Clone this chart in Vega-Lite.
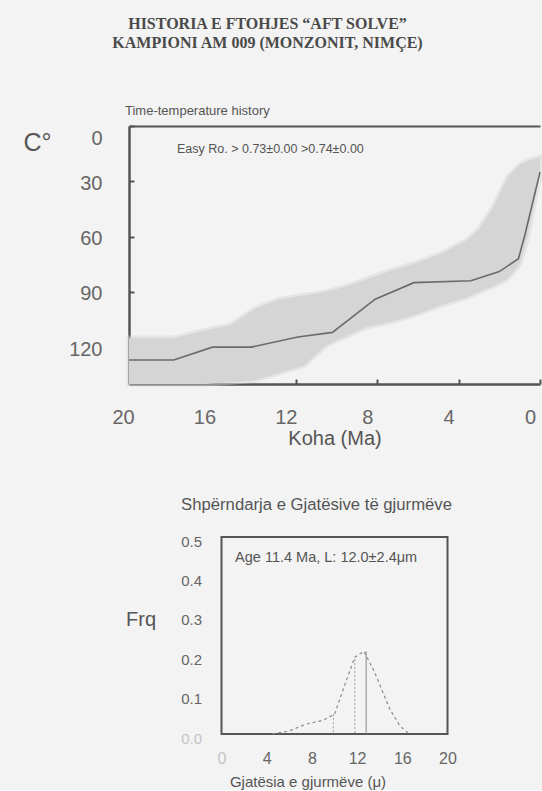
{
  "$schema": "https://vega.github.io/schema/vega-lite/v6.json",
  "background": "#f3f3f3",
  "padding": {"left": 23, "top": 16, "right": 0, "bottom": 0},
  "title": {
    "text": ["HISTORIA E FTOHJES “AFT SOLVE”", "KAMPIONI  AM 009 (MONZONIT, NIMÇE)"],
    "font": "Liberation Serif",
    "fontSize": 16,
    "fontWeight": "bold",
    "color": "#4a4a4a",
    "lineHeight": 19,
    "anchor": "middle",
    "dx": -19,
    "offset": 54
  },
  "config": {"font": "Liberation Sans", "axis": {"grid": false}},
  "bounds": "flush",
  "center": true,
  "spacing": 153,
  "datasets": {
    "envelope": [
      {"ma": 20.2, "cool": 115, "hot": 140},
      {"ma": 18.0, "cool": 115, "hot": 140},
      {"ma": 16.5, "cool": 111, "hot": 140},
      {"ma": 15.2, "cool": 108, "hot": 139},
      {"ma": 14.0, "cool": 99, "hot": 138},
      {"ma": 12.8, "cool": 94, "hot": 134},
      {"ma": 11.6, "cool": 92, "hot": 130},
      {"ma": 10.5, "cool": 90, "hot": 119},
      {"ma": 9.5, "cool": 87, "hot": 114},
      {"ma": 8.5, "cool": 83, "hot": 109},
      {"ma": 7.2, "cool": 78, "hot": 106},
      {"ma": 6.0, "cool": 74, "hot": 102},
      {"ma": 4.8, "cool": 69, "hot": 97},
      {"ma": 3.6, "cool": 62, "hot": 93},
      {"ma": 3.0, "cool": 56, "hot": 90},
      {"ma": 2.3, "cool": 44, "hot": 87},
      {"ma": 1.6, "cool": 28, "hot": 83},
      {"ma": 1.0, "cool": 21, "hot": 75},
      {"ma": 0.6, "cool": 19, "hot": 60},
      {"ma": 0.3, "cool": 18, "hot": 43},
      {"ma": 0.0, "cool": 17, "hot": 26}
    ],
    "path": [
      {"ma": 20.2, "temp": 127},
      {"ma": 18.0, "temp": 127},
      {"ma": 16.1, "temp": 120},
      {"ma": 14.2, "temp": 120},
      {"ma": 11.9, "temp": 114.5},
      {"ma": 10.2, "temp": 112},
      {"ma": 8.1, "temp": 94},
      {"ma": 6.2, "temp": 85},
      {"ma": 3.4, "temp": 84},
      {"ma": 2.0, "temp": 79},
      {"ma": 1.06, "temp": 72},
      {"ma": 0.74, "temp": 59},
      {"ma": 0.0, "temp": 25}
    ],
    "model": [
      {"len": 4.5, "freq": 0},
      {"len": 6.0, "freq": 0.008},
      {"len": 7.5, "freq": 0.025},
      {"len": 9.0, "freq": 0.035},
      {"len": 10.0, "freq": 0.05},
      {"len": 11.1, "freq": 0.14},
      {"len": 11.8, "freq": 0.195},
      {"len": 12.6, "freq": 0.21},
      {"len": 13.5, "freq": 0.16},
      {"len": 14.9, "freq": 0.063},
      {"len": 15.8, "freq": 0.02},
      {"len": 16.6, "freq": 0}
    ],
    "counts": [
      {"len": 9.9, "freq": 0.05},
      {"len": 11.8, "freq": 0.19}
    ],
    "peak": [
      {"len": 12.8, "freq": 0.21}
    ]
  },
  "vconcat": [
    {
      "width": 411,
      "height": 258,
      "view": {"stroke": null},
      "title": {
        "text": "Time-temperature history",
        "anchor": "start",
        "frame": "group",
        "fontSize": 13,
        "fontWeight": "normal",
        "color": "#555",
        "offset": 7,
        "dx": -4
      },
      "resolve": {"axis": {"x": "independent", "y": "independent"}},
      "layer": [
        {
          "data": {"name": "envelope"},
          "mark": {"type": "area", "color": "#d5d5d5", "stroke": "#d5d5d5", "strokeWidth": 5, "strokeOpacity": 0.45},
          "encoding": {
            "x": {
              "field": "ma",
              "type": "quantitative",
              "scale": {"domain": [0, 20.2], "reverse": true, "nice": false},
              "axis": {
                "orient": "bottom",
                "title": "Koha (Ma)",
                "values": [20, 16, 12, 8, 4, 0],
                "labelFontSize": 20,
                "labelColor": "#666",
                "labelPadding": 28,
                "labelOffset": -10,
                "labelFlush": false,
                "tickSize": -5,
                "tickWidth": 2,
                "tickColor": "#555",
                "domainColor": "#555",
                "domainWidth": 2.5,
                "titleFontSize": 20,
                "titleFontWeight": "normal",
                "titleColor": "#555",
                "titlePadding": 1
              }
            },
            "y": {
              "field": "cool",
              "type": "quantitative",
              "scale": {"domain": [0, 140], "reverse": true, "nice": false},
              "axis": {
                "orient": "left",
                "title": "C°",
                "titleAngle": 0,
                "titleAlign": "left",
                "titleBaseline": "middle",
                "titleX": -106,
                "titleY": 16,
                "titleFontSize": 25,
                "titleFontWeight": "normal",
                "titleColor": "#555",
                "values": [0, 30, 60, 90, 120],
                "labelFontSize": 20,
                "labelColor": "#666",
                "labelPadding": 32,
                "labelOffset": 2,
                "labelFlush": true,
                "tickSize": -5,
                "tickWidth": 2,
                "tickColor": "#555",
                "domainColor": "#555",
                "domainWidth": 2.5
              }
            },
            "y2": {"field": "hot"}
          }
        },
        {
          "data": {"name": "path"},
          "mark": {"type": "line", "color": "#6a6a6a", "strokeWidth": 1.6},
          "encoding": {
            "x": {"field": "ma", "type": "quantitative", "axis": null},
            "y": {"field": "temp", "type": "quantitative", "axis": null}
          }
        },
        {
          "data": {"values": [{}]},
          "mark": {"type": "text", "align": "left", "baseline": "middle", "fontSize": 12.5, "color": "#555"},
          "encoding": {
            "x": {
              "datum": 17.84,
              "type": "quantitative",
              "axis": {"orient": "top", "labels": false, "ticks": false, "title": null, "domainColor": "#555", "domainWidth": 2}
            },
            "y": {"datum": 12.5, "type": "quantitative", "axis": null},
            "text": {"value": "Easy Ro. > 0.73±0.00 >0.74±0.00"}
          }
        }
      ]
    },
    {
      "width": 226,
      "height": 197,
      "view": {"stroke": "#555", "strokeWidth": 2},
      "title": {
        "text": "Shpërndarja e Gjatësive të gjurmëve",
        "fontSize": 16.7,
        "fontWeight": "normal",
        "color": "#555",
        "offset": 20,
        "dx": -18
      },
      "resolve": {"axis": {"x": "independent", "y": "independent"}},
      "layer": [
        {
          "data": {"name": "model"},
          "mark": {"type": "line", "color": "#8a8a8a", "strokeWidth": 1.2, "strokeDash": [3, 3]},
          "encoding": {
            "x": {
              "field": "len",
              "type": "quantitative",
              "scale": {"domain": [0, 20], "nice": false},
              "axis": {
                "title": "Gjatësia e gjurmëve (μ)",
                "titleX": 86,
                "values": [0, 4, 8, 12, 16, 20],
                "labelFontSize": 16,
                "labelColor": {"condition": {"test": "datum.value === 0", "value": "#c4c4c4"}, "value": "#666"},
                "labelPadding": 16,
                "labelFlush": false,
                "labelOverlap": false,
                "ticks": false,
                "domain": false,
                "titleFontSize": 15,
                "titleFontWeight": "normal",
                "titleColor": "#555",
                "titlePadding": 8
              }
            },
            "y": {
              "field": "freq",
              "type": "quantitative",
              "scale": {"domain": [0, 0.5], "nice": false},
              "axis": {
                "title": "Frq",
                "titleAngle": 0,
                "titleAlign": "left",
                "titleBaseline": "middle",
                "titleX": -96,
                "titleY": 82,
                "titleFontSize": 20,
                "titleFontWeight": "normal",
                "titleColor": "#555",
                "values": [0, 0.1, 0.2, 0.3, 0.4, 0.5],
                "format": ".1f",
                "labelFontSize": 15,
                "labelColor": {"condition": {"test": "datum.value === 0", "value": "#c4c4c4"}, "value": "#666"},
                "labelPadding": 20,
                "labelOffset": 4,
                "labelFlush": false,
                "labelOverlap": false,
                "ticks": false,
                "domain": false
              }
            }
          }
        },
        {
          "data": {"name": "counts"},
          "mark": {"type": "rule", "color": "#9a9a9a", "strokeDash": [2, 2]},
          "encoding": {
            "x": {"field": "len", "type": "quantitative", "axis": null},
            "y": {"field": "freq", "type": "quantitative", "axis": null},
            "y2": {"datum": 0}
          }
        },
        {
          "data": {"name": "peak"},
          "mark": {"type": "rule", "color": "#8a8a8a", "strokeWidth": 1},
          "encoding": {
            "x": {"field": "len", "type": "quantitative", "axis": null},
            "y": {"field": "freq", "type": "quantitative", "axis": null},
            "y2": {"datum": 0}
          }
        },
        {
          "data": {"values": [{}]},
          "mark": {"type": "text", "align": "left", "baseline": "middle", "fontSize": 14.5, "color": "#555"},
          "encoding": {
            "x": {"datum": 1.2, "type": "quantitative", "axis": null},
            "y": {"datum": 0.447, "type": "quantitative", "axis": null},
            "text": {"value": "Age  11.4 Ma,  L: 12.0±2.4μm"}
          }
        }
      ]
    }
  ]
}
